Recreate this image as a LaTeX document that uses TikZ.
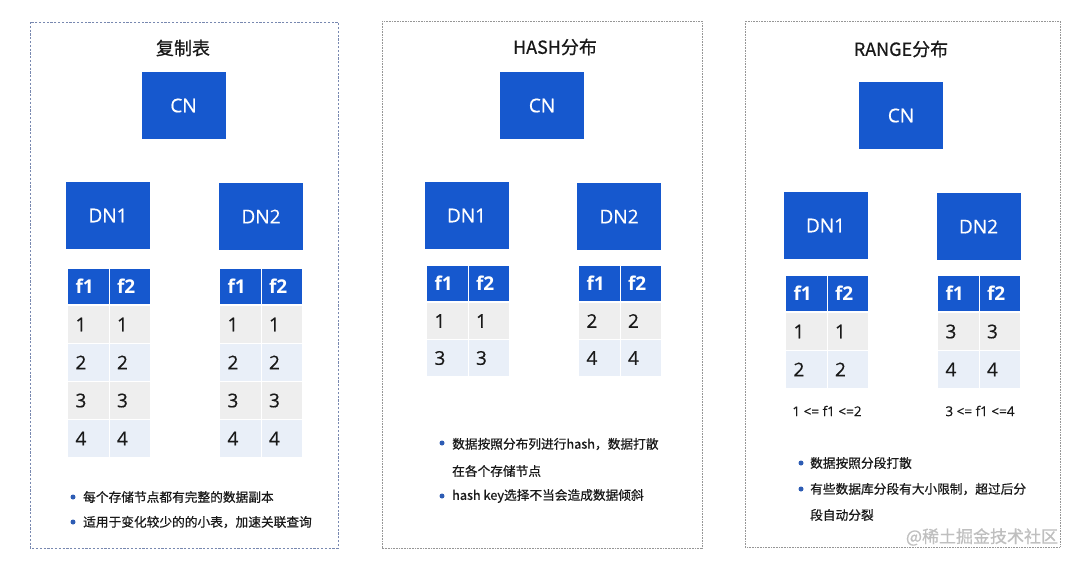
\documentclass[tikz,border=0pt]{standalone}
\usepackage{fontspec}
\setmainfont{Open Sans}
\newfontfamily\cjk{Noto Sans CJK SC}[FakeBold=0.6]
\newfontfamily\lat{Open Sans}[FakeBold=0.5]
\definecolor{nblue}{RGB}{22,88,206}
\definecolor{dotblue}{RGB}{45,92,180}
\definecolor{rowgrey}{RGB}{238,238,238}
\definecolor{rowblue}{RGB}{233,239,248}
\definecolor{dashc}{RGB}{120,136,176}
\definecolor{dotc}{RGB}{150,150,150}
\definecolor{txt}{RGB}{25,25,25}
\tikzset{
  panelA/.style={draw=dashc, line width=1pt, dash pattern=on 2.2pt off 1.6pt},
  panelB/.style={draw=dotc, line width=0.7pt, dash pattern=on 0.8pt off 0.8pt},
  ttl/.style={font=\cjk\fontsize{18}{18}\selectfont, text=txt},
  blk/.style={fill=nblue, text=white, minimum width=84pt, minimum height=67pt, inner sep=0pt, font=\lat\fontsize{19}{19}\selectfont},
  hcell/.style={fill=nblue, draw=white, line width=1pt, text=white, font=\bfseries\fontsize{19}{19}\selectfont,
     text width=25.5pt, inner xsep=8pt, inner ysep=0pt, align=left, anchor=north west},
  dcell/.style={draw=white, line width=1pt, text=txt, font=\lat\fontsize{19}{19}\selectfont,
     text width=25.5pt, inner xsep=8pt, inner ysep=0pt, align=left, anchor=north west},
  rowodd/.style={fill=rowgrey},
  roweven/.style={fill=rowblue},
  bdot/.style={circle, fill=dotblue, minimum size=5pt, inner sep=0pt},
  btxt/.style={anchor=west, inner sep=0pt, font=\cjk\fontsize{12.7}{14}\selectfont, text=txt},
  rlab/.style={font=\lat\fontsize{13.5}{13.5}\selectfont, text=txt},
  wmark/.style={font=\cjk\fontsize{17}{17}\selectfont, text=black!25}
}
\newcommand{\mktbl}[6]{%
  \pgfmathsetmacro\xb{#2+41.5}%
  \node[hcell, minimum height=#4pt] (#1h1) at (#2,#3) {f1};
  \node[hcell, minimum height=#4pt] (#1h2) at (\xb,#3) {f2};
  \foreach \a/\b [count=\i] in {#6} {
    \ifodd\i\def\rs{rowodd}\else\def\rs{roweven}\fi
    \pgfmathsetmacro\yy{#3+#4+(\i-1)*#5+1}
    \node[dcell,\rs, minimum height=#5pt] (#1r\i a) at (#2,\yy) {\a};
    \node[dcell,\rs, minimum height=#5pt] (#1r\i b) at (\xb,\yy) {\b};
  }%
}
\begin{document}
\begin{tikzpicture}[x=1pt,y=-1pt]
\useasboundingbox[fill=white] (0,0) rectangle (1080,566);
% panels
\draw[panelA] (30,22) rectangle (338,548);
\draw[panelB] (382,21) rectangle (702,548);
\draw[panelB] (745,21) rectangle (1060,547);
% panel 1
\node[ttl] (title1) at (183,48) {复制表};
\node[blk] (cn1) at (183.5,105.5) {CN};
\node[blk] (dn11) at (108,215.5) {DN1};
\node[blk] (dn12) at (261,216.5) {DN2};
\mktbl{ta}{67}{268}{36}{38}{1/1,2/2,3/3,4/4}
\mktbl{tb}{219}{268}{36}{38}{1/1,2/2,3/3,4/4}
\node[bdot] (d11) at (73,497) {};
\node[btxt] (x11) at (83,497) {每个存储节点都有完整的数据副本};
\node[bdot] (d12) at (73,522) {};
\node[btxt] (x12) at (83,522) {适用于变化较少的的小表，加速关联查询};
% panel 2
\node[ttl] (title2) at (555,47) {HASH分布};
\node[blk] (cn2) at (542,105.5) {CN};
\node[blk] (dn21) at (466.5,215.5) {DN1};
\node[blk] (dn22) at (619,216.5) {DN2};
\mktbl{tc}{426}{265}{36}{37}{1/1,3/3}
\mktbl{td}{578}{265}{36}{37}{2/2,4/4}
\node[bdot] (d21) at (442,443) {};
\node[btxt] (x21) at (452,444) {数据按照分布列进行hash，数据打散};
\node[btxt] (x22) at (452,471) {在各个存储节点};
\node[bdot] (d22) at (442,496) {};
\node[btxt] (x23) at (452,496) {hash key选择不当会造成数据倾斜};
% panel 3
\node[ttl] (title3) at (901,49) {RANGE分布};
\node[blk] (cn3) at (901,115.5) {CN};
\node[blk] (dn31) at (825.5,225.5) {DN1};
\node[blk] (dn32) at (978.5,226.5) {DN2};
\mktbl{te}{785}{275}{36}{38}{1/1,2/2}
\mktbl{tf}{937}{275}{36}{38}{3/3,4/4}
\node[rlab] (r1) at (827,411) {1 <= f1 <=2};
\node[rlab] (r2) at (980,411) {3 <= f1 <=4};
\node[bdot] (d31) at (801,463) {};
\node[btxt] (x31) at (810,463) {数据按照分段打散};
\node[bdot] (d32) at (801,489) {};
\node[btxt] (x32) at (810,489) {有些数据库分段有大小限制，超过后分};
\node[btxt] (x33) at (810,515) {段自动分裂};
\node[wmark] (wm) at (982,537) {@稀土掘金技术社区};
\end{tikzpicture}
\end{document}
